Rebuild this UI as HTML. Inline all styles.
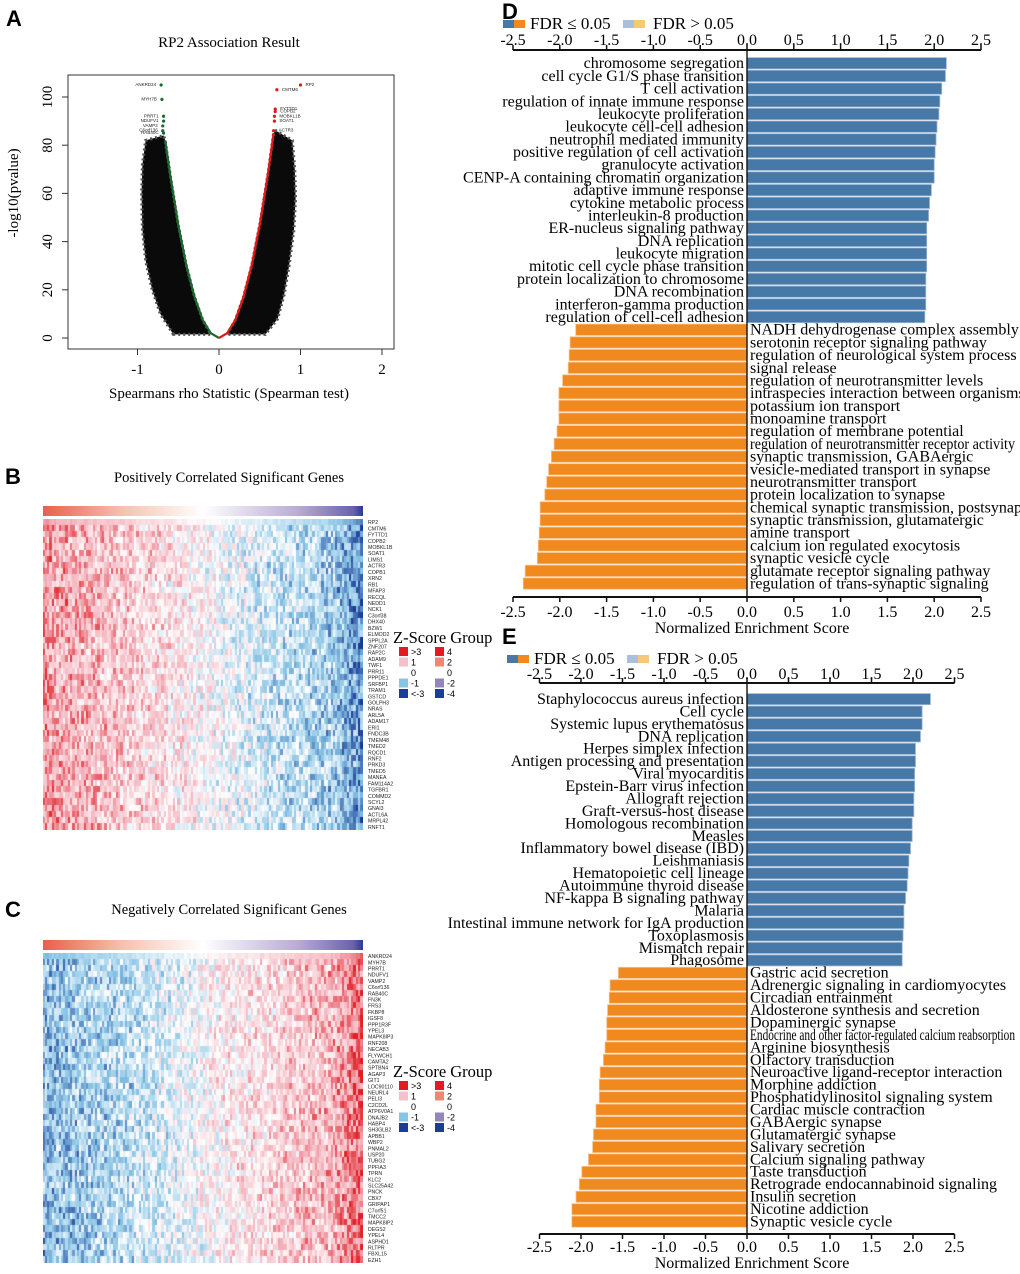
<!DOCTYPE html>
<html><head><meta charset="utf-8"><style>
html,body{margin:0;padding:0;background:#fff;}
#wrap{position:relative;width:1020px;height:1274px;overflow:hidden;font-family:"Liberation Serif",serif;}
svg{position:absolute;left:0;top:0;}
canvas{position:absolute;}
.pl{font-family:"Liberation Sans",sans-serif;font-weight:bold;font-size:22px;}
</style></head><body>
<div id="wrap">
<canvas id="hmB" width="320" height="311" style="left:43px;top:519px;width:320px;height:311px"></canvas>
<canvas id="hmC" width="320" height="310" style="left:43px;top:953px;width:320px;height:310px"></canvas>
<svg id="svg" width="1020" height="1274" xmlns="http://www.w3.org/2000/svg">
<defs>
<linearGradient id="cbar" x1="0" x2="1" y1="0" y2="0">
<stop offset="0" stop-color="#e8604a"/><stop offset="0.25" stop-color="#f6c2b0"/><stop offset="0.5" stop-color="#ffffff"/><stop offset="0.8" stop-color="#b8aad4"/><stop offset="0.97" stop-color="#6a62ac"/><stop offset="1" stop-color="#283a96"/>
</linearGradient>
</defs>
<text class="pl" x="6" y="26">A</text>
<text class="pl" x="5" y="484">B</text>
<text class="pl" x="5" y="917">C</text>
<text class="pl" x="502" y="19">D</text>
<text class="pl" x="502" y="644">E</text>
<g id="gA"></g>
<g id="gB"></g>
<g id="gC"></g>
<g id="gD"></g>
<g id="gE"></g>
</svg>
</div>
<script>
// ---------- Panel A data ----------
const greenRho=[-0.66,-0.6,-0.5,-0.4,-0.3,-0.2,-0.1,0];
const greenY=[82,68,47,30,17,7.5,2,0];
const redRho=[0,0.1,0.2,0.3,0.4,0.5,0.6,0.67];
const redY=[0,2,7.5,17,30,47,68,85];
const leftCloudRho=[-0.56,-0.72,-0.82,-0.9,-0.94,-0.95,-0.94,-0.9,-0.68,-0.66,-0.6,-0.5,-0.4,-0.3,-0.2,-0.1];
const leftCloudY=[1.5,10,20,32,45,60,72,82,84,82,68,47,30,17,7.5,1.5];
const rightCloudRho=[0.1,0.2,0.3,0.4,0.5,0.6,0.67,0.7,0.9,0.93,0.94,0.92,0.86,0.8,0.72,0.57];
const rightCloudY=[1.5,7.5,17,30,47,68,85,86,82,70,58,45,30,18,8,1.5];
const negGenes=["ANKRD24","MYH7B","PRRT1","NDUFV1","VAMP2","C6orf136","RAB40C"];
const negRho=[-0.71,-0.70,-0.68,-0.68,-0.69,-0.69,-0.68];
const negY=[105,99,92,90,88,86,85];
const posGenes=["RP2","CMTM6","FYTTD1","COPB2","MOBKL1B","SOAT1","ACTR3"];
const posRho=[1.0,0.71,0.69,0.69,0.68,0.68,0.67];
const posY=[105,103,95,94,92,90,86];
const aXTicks=[-1,0,1,2];
const aYTicks=[0,20,40,60,80,100];

// ---------- Heatmap data ----------
const genesB=["RP2","CMTM6","FYTTD1","COPB2","MOBKL1B","SOAT1","LIMS1","ACTR3","COPB1","XRN2","RB1","MFAP3","RECQL","NEDD1","NCK1","C3orf38","DHX40","BZW1","ELMOD2","SPPL2A","ZNF207","RAP2C","ADAM9","TWF1","PRR11","PPPDE1","SRFBP1","TRAM1","GSTCD","GOLPH3","NRAS","ARL5A","ADAM17","ERI1","FNDC3B","TMEM48","TMED2","RQCD1","RNF2","PRKD3","TMED5","MANEA","FAM114A2","TGFBR1","COMMD2","SCYL2","GNAI3","ACTL6A","MRPL42","RNFT1"];
const genesC=["ANKRD24","MYH7B","PRRT1","NDUFV1","VAMP2","C6orf136","RAB40C","FN3K","FRS3","FKBP8","IGSF8","PPP1R3F","YPEL3","MAPK8IP3","RNF208","NECAB3","FLYWCH1","CAMTA2","SPTBN4","AGAP3","GIT1","LOC90110","NEURL4","PELI3","C2CD2L","ATP6V0A1","DNAJB2","HABP4","SH3GLB2","APBB1","WBP2","PNMAL2","USP20","TUBG2","PPFIA3","TPRN","KLC2","SLC25A42","PNCK","CBX7","GRIPAP1","C7orf51","TMCC2","MAPK8IP2","DEGS2","YPEL4","ASPHD1","RLTPR","FBXL15","EZH1"];
const trendB=[1.15,0.95,0.8,0.65,0.45,0.25,0.0,-0.25,-0.45,-0.6,-0.8,-1.4];
const trendC=[-1.0,-0.85,-0.7,-0.55,-0.35,-0.1,0.2,0.4,0.55,0.7,0.9,1.6];
const legendLabels1=[">3","1","0","-1","<-3"];
const legendLabels2=["4","2","0","-2","-4"];
const legendColors1=["#e31a22","#f4c0cb","#ffffff","#86c6e4","#1a3e98"];
const legendColors2=["#e31a22","#f08870","#ffffff","#9484c0","#1a3e98"];

// ---------- Panel D data ----------
const dPos=["chromosome segregation","cell cycle G1/S phase transition","T cell activation","regulation of innate immune response","leukocyte proliferation","leukocyte cell-cell adhesion","neutrophil mediated immunity","positive regulation of cell activation","granulocyte activation","CENP-A containing chromatin organization","adaptive immune response","cytokine metabolic process","interleukin-8 production","ER-nucleus signaling pathway","DNA replication","leukocyte migration","mitotic cell cycle phase transition","protein localization to chromosome","DNA recombination","interferon-gamma production","regulation of cell-cell adhesion"];
const dPosVal=[2.13,2.12,2.08,2.06,2.05,2.03,2.02,2.01,2.0,2.0,1.97,1.95,1.94,1.92,1.92,1.92,1.92,1.91,1.91,1.91,1.9];
const dNeg=["NADH dehydrogenase complex assembly","serotonin receptor signaling pathway","regulation of neurological system process","signal release","regulation of neurotransmitter levels","intraspecies interaction between organisms","potassium ion transport","monoamine transport","regulation of membrane potential","regulation of neurotransmitter receptor activity","synaptic transmission, GABAergic","vesicle-mediated transport in synapse","neurotransmitter transport","protein localization to synapse","chemical synaptic transmission, postsynaptic","synaptic transmission, glutamatergic","amine transport","calcium ion regulated exocytosis","synaptic vesicle cycle","glutamate receptor signaling pathway","regulation of trans-synaptic signaling"];
const dNegVal=[-1.83,-1.89,-1.90,-1.91,-1.97,-2.01,-2.01,-2.01,-2.03,-2.06,-2.09,-2.12,-2.14,-2.16,-2.21,-2.21,-2.22,-2.23,-2.24,-2.37,-2.39];
// ---------- Panel E data ----------
const ePos=["Staphylococcus aureus infection","Cell cycle","Systemic lupus erythematosus","DNA replication","Herpes simplex infection","Antigen processing and presentation","Viral myocarditis","Epstein-Barr virus infection","Allograft rejection","Graft-versus-host disease","Homologous recombination","Measles","Inflammatory bowel disease (IBD)","Leishmaniasis","Hematopoietic cell lineage","Autoimmune thyroid disease","NF-kappa B signaling pathway","Malaria","Intestinal immune network for IgA production","Toxoplasmosis","Mismatch repair","Phagosome"];
const ePosVal=[2.21,2.11,2.11,2.09,2.03,2.03,2.02,2.02,2.01,2.01,1.99,1.99,1.97,1.95,1.94,1.93,1.91,1.89,1.89,1.88,1.87,1.87];
const eNeg=["Gastric acid secretion","Adrenergic signaling in cardiomyocytes","Circadian entrainment","Aldosterone synthesis and secretion","Dopaminergic synapse","Endocrine and other factor-regulated calcium reabsorption","Arginine biosynthesis","Olfactory transduction","Neuroactive ligand-receptor interaction","Morphine addiction","Phosphatidylinositol signaling system","Cardiac muscle contraction","GABAergic synapse","Glutamatergic synapse","Salivary secretion","Calcium signaling pathway","Taste transduction","Retrograde endocannabinoid signaling","Insulin secretion","Nicotine addiction","Synaptic vesicle cycle"];
const eNegVal=[-1.55,-1.65,-1.66,-1.68,-1.69,-1.69,-1.71,-1.73,-1.77,-1.78,-1.78,-1.82,-1.82,-1.85,-1.86,-1.91,-1.99,-2.02,-2.06,-2.11,-2.11];
const nesTicks=[-2.5,-2.0,-1.5,-1.0,-0.5,0.0,0.5,1.0,1.5,2.0,2.5];

const NS="http://www.w3.org/2000/svg";
function mk(parent,tag,attrs,text){const e=document.createElementNS(NS,tag);for(const k in attrs)e.setAttribute(k,attrs[k]);if(text!==undefined)e.textContent=text;parent.appendChild(e);return e;}

// ---------- Panel A ----------
(function(){
 const g=document.getElementById('gA');
 const xA=r=>219+r*81.5, yA=v=>338-v*2.41;
 let t=mk(g,'text',{x:229,y:47,'text-anchor':'middle','font-size':15},'RP2 Association Result');
 
 let r=mk(g,'rect',{x:68,y:75,width:326,height:274,fill:'none',stroke:'#333','stroke-width':1});
 
 const poly=(rs,ys,name)=>{const p=mk(g,'polygon',{points:rs.map((v,i)=>xA(v)+','+yA(ys[i])).join(' '),fill:'#0a0a0a',stroke:'#555','stroke-width':3,'stroke-dasharray':'2 3'});
  };
 poly(leftCloudRho,leftCloudY,'negative-gene-cloud');
 poly(rightCloudRho,rightCloudY,'positive-gene-cloud');
 const line=(rs,ys,c,name)=>{const p=mk(g,'polyline',{points:rs.map((v,i)=>xA(v)+','+yA(ys[i])).join(' '),fill:'none',stroke:c,'stroke-width':2.2});
  };
 line(greenRho,greenY,'#1a6a30','negative-significant-curve');
 line(redRho,redY,'#e01818','positive-significant-curve');
 negGenes.forEach((n,i)=>{const c=mk(g,'circle',{cx:xA(negRho[i]),cy:yA(negY[i]),r:1.6,fill:'#1a6a30'});
  
  const l=mk(g,'text',{x:xA(negRho[i])-5,y:yA(negY[i])+1,'text-anchor':'end','font-size':4.5,'font-family':'Liberation Sans, sans-serif',fill:'#222'},n);
  });
 posGenes.forEach((n,i)=>{const c=mk(g,'circle',{cx:xA(posRho[i]),cy:yA(posY[i]),r:1.6,fill:'#e01818'});
  
  const l=mk(g,'text',{x:xA(posRho[i])+5,y:yA(posY[i])+1,'font-size':4.5,'font-family':'Liberation Sans, sans-serif',fill:'#222'},n);
  });
 aXTicks.forEach(v=>{mk(g,'line',{x1:xA(v),x2:xA(v),y1:349,y2:355,stroke:'#333'});
  const l=mk(g,'text',{x:xA(v),y:374,'text-anchor':'middle','font-size':15},String(v));
  });
 aYTicks.forEach(v=>{mk(g,'line',{x1:62,x2:68,y1:yA(v),y2:yA(v),stroke:'#333'});
  const l=mk(g,'text',{x:0,y:0,'text-anchor':'middle','font-size':15,transform:`translate(52,${yA(v)}) rotate(-90)`},String(v));
  });
 let xl=mk(g,'text',{x:229,y:398,'text-anchor':'middle','font-size':15},'Spearmans rho Statistic (Spearman test)');
 
 let yl=mk(g,'text',{x:0,y:0,'text-anchor':'middle','font-size':15,transform:'translate(18,193) rotate(-90)'},'-log10(pvalue)');
 
})();

// ---------- Heatmaps ----------
function hash(a,b){let h=(a*374761393+b*668265263)|0;h=(h^(h>>>13))*1274126177|0;h=h^(h>>>16);return ((h>>>0)%10000)/10000;}
const stops=[[-2,[26,58,150]],[-1,[140,198,230]],[0,[255,255,255]],[1,[244,182,192]],[2,[226,31,38]]];
function col(v){v=Math.max(-2,Math.min(2,v));for(let i=0;i<4;i++){const a=stops[i],b=stops[i+1];if(v<=b[0]){const t=(v-a[0])/(b[0]-a[0]);return 'rgb('+a[1].map((c,k)=>Math.round(c+(b[1][k]-c)*t)).join(',')+')';}}return 'rgb(226,31,38)';}
function trendAt(tr,f){const p=f*(tr.length-1),i=Math.min(tr.length-2,Math.floor(p)),t=p-i;return tr[i]+(tr[i+1]-tr[i])*t;}
function drawHeat(id,tr,genes,seed){
 const cv=document.getElementById(id),ctx=cv.getContext('2d');const ncol=140;const w=cv.width/ncol,h=cv.height/genes.length;
 for(let r=0;r<genes.length;r++)for(let c=0;c<ncol;c++){
  const base=trendAt(tr,c/(ncol-1));const n=r===0?(hash(c,seed)-0.5)*0.3:(hash(c*7+seed,r*13+1)-0.5)*1.4+(hash(c+seed*3,r)-0.5)*0.5;
  ctx.fillStyle=col(base+n);ctx.fillRect(Math.floor(c*w),Math.floor(r*h),Math.ceil(w)+1,Math.ceil(h)+1);}
}
drawHeat('hmB',trendB,genesB,3);
drawHeat('hmC',trendC,genesC,11);
function heatPanel(gid,title,titleY,cbY,top,height,genes,legY){
 const g=document.getElementById(gid);
 const t=mk(g,'text',{x:229,y:titleY,'text-anchor':'middle','font-size':14.5},title);
 
 const cb=mk(g,'rect',{x:43,y:cbY,width:320,height:10,fill:'url(#cbar)'});
 
 const p=height/genes.length;
 genes.forEach((n,i)=>{const l=mk(g,'text',{x:368,y:top+p*i+p/2+2,'font-size':5.2,'font-family':'Liberation Sans, sans-serif',fill:'#222'},n);
  });
 const lt=mk(g,'text',{x:393,y:legY,'font-size':16.5},'Z-Score Group');
 
 legendLabels1.forEach((lab,i)=>{const y=legY+4+i*10.5;
  const s1=mk(g,'rect',{x:399,y:y,width:9,height:9,fill:legendColors1[i]});
  
  const l1=mk(g,'text',{x:411,y:y+8,'font-size':9,'font-family':'Liberation Sans, sans-serif'},lab);
  
  const s2=mk(g,'rect',{x:435,y:y,width:9,height:9,fill:legendColors2[i]});
  
  const l2=mk(g,'text',{x:447,y:y+8,'font-size':9,'font-family':'Liberation Sans, sans-serif'},legendLabels2[i]);
  });
}
heatPanel('gB','Positively Correlated Significant Genes',482,506,519,311,genesB,643);
heatPanel('gC','Negatively Correlated Significant Genes',914,940,953,310,genesC,1077);

// ---------- Bar charts ----------
function barChart(gid,pos,posVal,neg,negVal,o){
 const g=document.getElementById(gid);
 const x=v=>o.zero+v*o.unit;
 const cats=pos.concat(neg),vals=posVal.concat(negVal);
 const pitch=(o.bottom-o.top)/cats.length;
 const lg=[[o.lx,'#4678a8'],[o.lx+11,'#f0891e'],[o.lx+120,'#a9c0dc'],[o.lx+131,'#f8c878']];
 lg.forEach(a=>{const s=mk(g,'rect',{x:a[0],y:o.legY-9,width:11,height:8,fill:a[1]});});
 let l1=mk(g,'text',{x:o.lx+27,y:o.legY,'font-size':17},'FDR ≤ 0.05');
 let l2=mk(g,'text',{x:o.lx+150,y:o.legY,'font-size':17},'FDR > 0.05');
 cats.forEach((c,i)=>{const v=vals[i];const y=o.top+i*pitch;
  const x0=Math.min(x(0),x(v)),w=Math.abs(x(v)-x(0));
  const b=mk(g,'rect',{x:x0,y:y+0.6,width:w,height:pitch-1.4,fill:v>0?'#4678a8':'#f0891e',stroke:v>0?'#9db6d2':'#f8c08a','stroke-width':0.8});
  
  const attrs={y:y+pitch-1.5,'font-size':o.fs};
  if(v>0){attrs.x=x(0)-3;attrs['text-anchor']='end';}else{attrs.x=x(0)+3;}
  if(c.length>=o.longLen){attrs.textLength=o.longW;attrs.lengthAdjust='spacingAndGlyphs';}
  const t=mk(g,'text',attrs,c);});
 mk(g,'line',{x1:x(0),x2:x(0),y1:o.axTop,y2:o.axBot,stroke:'#111','stroke-width':1.4});
 [[o.axTop,-5,o.tickTopY],[o.axBot,5,o.tickBotY]].forEach(a=>{
  const ax=mk(g,'line',{x1:x(-2.5),x2:x(2.5),y1:a[0],y2:a[0],stroke:'#111','stroke-width':2});
  
  nesTicks.forEach(v=>{mk(g,'line',{x1:x(v),x2:x(v),y1:a[0],y2:a[0]+a[1],stroke:'#111','stroke-width':1.5});
   const t=mk(g,'text',{x:x(v),y:a[2],'text-anchor':'middle','font-size':16},v.toFixed(1));
   });});
 const at=mk(g,'text',{x:x(0)+5,y:o.titleY,'text-anchor':'middle','font-size':16},'Normalized Enrichment Score');
 
}
barChart('gD',dPos,dPosVal,dNeg,dNegVal,{zero:747,unit:93.6,top:57,bottom:590,axTop:50,axBot:597,tickTopY:45,tickBotY:617,titleY:633,legY:29,lx:503,fs:16,longLen:46,longW:265});
barChart('gE',ePos,ePosVal,eNeg,eNegVal,{zero:747,unit:83,top:693,bottom:1228,axTop:683,axBot:1234,tickTopY:679,tickBotY:1252,titleY:1268,legY:664,lx:507,fs:16,longLen:50,longW:265});
</script>
</body></html>
